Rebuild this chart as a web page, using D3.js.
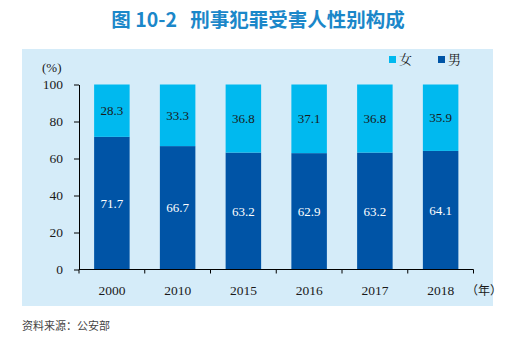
<!DOCTYPE html>
<html>
<head>
<meta charset="utf-8">
<script src="https://cdn.jsdelivr.net/npm/d3@7"></script>
<style>
  body { margin: 0; background: #fff; }
  svg { display: block; }
</style>
</head>
<body>
<svg id="chart"></svg>
<script>
const width = 512, height = 343;

// Data
const years = ["2000", "2010", "2015", "2016", "2017", "2018"];
const female = [28.3, 33.3, 36.8, 37.1, 36.8, 35.9];
const male = [71.7, 66.7, 63.2, 62.9, 63.2, 64.1];
const yTicks = [0, 20, 40, 60, 80, 100];

const plot = { left: 79, right: 473.5, top: 84.5, bottom: 269.5 };
const serif = "'Liberation Serif', 'Times New Roman', serif";
const cjk = "'Noto Sans CJK SC', sans-serif";

const colors = { female: "#00b9ef", male: "#0054a6" };

const svg = d3.select("#chart")
    .attr("width", width)
    .attr("height", height);

// Title
svg.append("text")
    .attr("x", 258)
    .attr("y", 27)
    .attr("text-anchor", "middle")
    .style("font-family", cjk)
    .style("font-weight", "bold")
    .style("font-size", "19.5px")
    .style("white-space", "pre")
    .attr("fill", "#1b87c9")
    .text("图 10-2   刑事犯罪受害人性别构成");

// Panel background
svg.append("rect")
    .attr("x", 22)
    .attr("y", 49)
    .attr("width", 471)
    .attr("height", 257)
    .attr("fill", "#d5ecf9");

// Scales
const xScale = d3.scaleBand()
    .domain(years)
    .range([plot.left, plot.right])
    .paddingInner(0.46)
    .paddingOuter(0.23);

const yScale = d3.scaleLinear()
    .domain([0, 100])
    .range([plot.bottom, plot.top]);

const rows = years.map((y, i) => ({ year: y, female: female[i], male: male[i] }));

// Bars: male at the bottom, female stacked on top
const g = svg.append("g");
g.selectAll("rect.male")
    .data(rows)
    .enter().append("rect")
    .attr("class", "male")
    .attr("x", d => xScale(d.year))
    .attr("y", d => yScale(d.male))
    .attr("width", xScale.bandwidth())
    .attr("height", d => yScale(0) - yScale(d.male))
    .attr("fill", colors.male);

g.selectAll("rect.female")
    .data(rows)
    .enter().append("rect")
    .attr("class", "female")
    .attr("x", d => xScale(d.year))
    .attr("y", d => yScale(d.male + d.female))
    .attr("width", xScale.bandwidth())
    .attr("height", d => yScale(d.male) - yScale(d.male + d.female))
    .attr("fill", colors.female);

// Value labels
g.selectAll("text.male")
    .data(rows)
    .enter().append("text")
    .attr("x", d => xScale(d.year) + xScale.bandwidth() / 2)
    .attr("y", d => yScale(d.male / 2))
    .attr("dy", "0.35em")
    .attr("text-anchor", "middle")
    .style("font-family", serif)
    .style("font-size", "13px")
    .attr("fill", "#fff")
    .text(d => d.male.toFixed(1));

g.selectAll("text.female")
    .data(rows)
    .enter().append("text")
    .attr("x", d => xScale(d.year) + xScale.bandwidth() / 2)
    .attr("y", d => yScale(d.male + d.female / 2))
    .attr("dy", "0.35em")
    .attr("text-anchor", "middle")
    .style("font-family", serif)
    .style("font-size", "13px")
    .attr("fill", "#1a1a1a")
    .text(d => d.female.toFixed(1));

// Y axis
const yAxis = svg.append("g")
    .attr("transform", `translate(${plot.left},0)`)
    .call(d3.axisLeft(yScale).tickValues(yTicks).tickSize(5).tickSizeOuter(0));
yAxis.selectAll("text")
    .attr("x", -16)
    .style("font-family", serif)
    .style("font-size", "13.5px")
    .attr("fill", "#1a1a1a");

// X axis with ticks between bands
const xAxis = svg.append("g")
    .attr("transform", `translate(0,${plot.bottom})`);
xAxis.append("line")
    .attr("x1", plot.left).attr("x2", plot.right)
    .attr("stroke", "#000");
const bounds = years.map(y => xScale(y) - xScale.step() * xScale.paddingInner() / 2)
    .concat([plot.right]);
bounds[0] = plot.left;
xAxis.selectAll("line.tick")
    .data(bounds)
    .enter().append("line")
    .attr("x1", d => d).attr("x2", d => d)
    .attr("y1", 0).attr("y2", 4)
    .attr("stroke", "#000");
xAxis.selectAll("text.year")
    .data(years)
    .enter().append("text")
    .attr("x", d => xScale(d) + xScale.bandwidth() / 2)
    .attr("y", 25)
    .attr("text-anchor", "middle")
    .style("font-family", serif)
    .style("font-size", "13.5px")
    .attr("fill", "#1a1a1a")
    .text(d => d);

// Axis units
svg.append("text")
    .attr("x", 466)
    .attr("y", plot.bottom + 25)
    .style("font-family", cjk)
    .style("font-size", "12px")
    .attr("fill", "#1a1a1a")
    .text("（年）");

svg.append("text")
    .attr("x", 42)
    .attr("y", 72)
    .style("font-family", serif)
    .style("font-size", "13px")
    .attr("fill", "#1a1a1a")
    .text("(%)");

// Legend
const legend = svg.selectAll(".legend")
    .data([["女", colors.female], ["男", colors.male]])
    .enter().append("g")
    .attr("class", "legend")
    .attr("transform", (d, i) => `translate(${389 + i * 49},56)`);
legend.append("rect")
    .attr("width", 7)
    .attr("height", 7)
    .attr("fill", d => d[1]);
legend.append("text")
    .attr("x", 10)
    .attr("y", 8)
    .style("font-family", "'Noto Serif CJK SC', " + cjk)
    .style("font-size", "13px")
    .attr("fill", "#1a1a1a")
    .text(d => d[0]);

// Source note
svg.append("text")
    .attr("x", 22)
    .attr("y", 330)
    .style("font-family", cjk)
    .style("font-size", "11px")
    .attr("fill", "#444")
    .text("资料来源：公安部");
</script>
</body>
</html>
